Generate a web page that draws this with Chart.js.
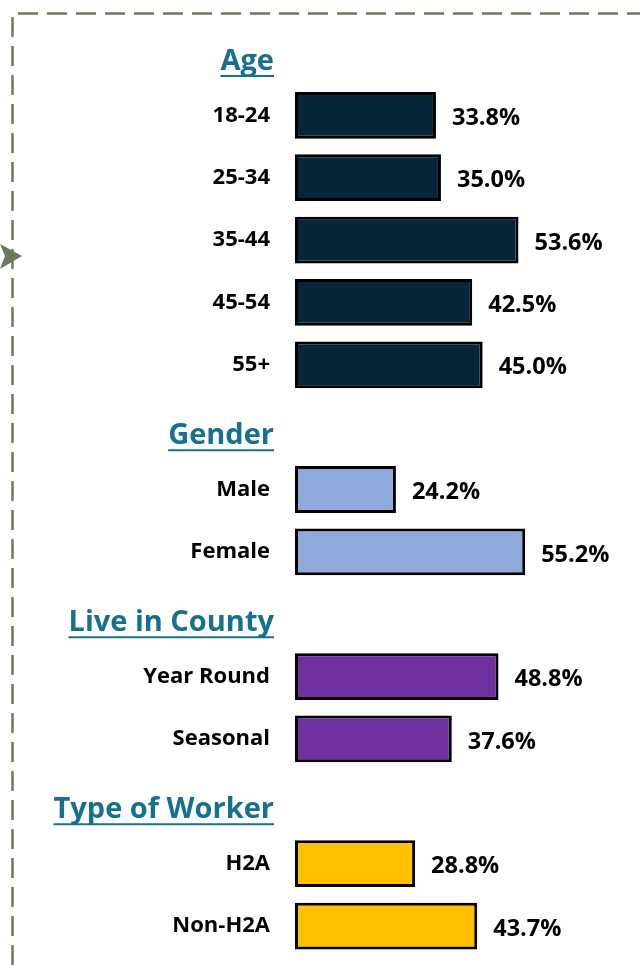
<!DOCTYPE html>
<html>
<head>
<meta charset="utf-8">
<script src="https://cdn.jsdelivr.net/npm/chart.js@4"></script>
<style>
html, body { margin: 0; padding: 0; background: #fff; }
#wrap { position: relative; width: 640px; height: 965px; }
</style>
</head>
<body>
<div id="wrap"><canvas id="demoChart" width="640" height="965"></canvas></div>
<script>
// group headings and their bars
var groupNames = ['Age', 'Gender', 'Live in County', 'Type of Worker'];
var ageLabels = ['18-24', '25-34', '35-44', '45-54', '55+'];
var ageValues = [33.8, 35.0, 53.6, 42.5, 45.0];
var genderLabels = ['Male', 'Female'];
var genderValues = [24.2, 55.2];
var countyLabels = ['Year Round', 'Seasonal'];
var countyValues = [48.8, 37.6];
var workerLabels = ['H2A', 'Non-H2A'];
var workerValues = [28.8, 43.7];
var groupColors = ['#08263a', '#8eaadb', '#7030a0', '#ffc000'];

var FONT = '"Open Sans", "Noto Sans", sans-serif';
var HEAD_COLOR = '#16708f';
var FRAME_COLOR = '#6c7a5b';

// one category slot per heading, then one per bar
var labels = [], values = [], colors = [], headers = [];
[[ageLabels, ageValues], [genderLabels, genderValues], [countyLabels, countyValues], [workerLabels, workerValues]]
  .forEach(function (g, gi) {
    headers.push({ index: labels.length, text: groupNames[gi] });
    labels.push('');
    values.push(null);
    colors.push('rgba(0,0,0,0)');
    for (var i = 0; i < g[0].length; i++) {
      labels.push(g[0][i]);
      values.push(g[1][i]);
      colors.push(groupColors[gi]);
    }
  });

// dashed frame + arrow on the left
var framePlugin = {
  id: 'frame',
  beforeDraw: function (chart) {
    var c = chart.ctx;
    c.save();
    c.strokeStyle = FRAME_COLOR;
    c.lineWidth = 2.5;
    c.setLineDash([20, 9]);
    c.beginPath();
    c.moveTo(12.5, 965);
    c.lineTo(12.5, 13.5);
    c.lineTo(640, 13.5);
    c.stroke();
    c.setLineDash([]);
    c.fillStyle = FRAME_COLOR;
    c.beginPath();
    c.moveTo(22, 256);
    c.lineTo(0, 244);
    c.lineTo(5, 256);
    c.lineTo(0, 269);
    c.closePath();
    c.fill();
    c.restore();
  }
};

// headings with underline, and value labels at bar ends
var textPlugin = {
  id: 'texts',
  afterDatasetsDraw: function (chart) {
    var c = chart.ctx;
    var yScale = chart.scales.y;
    c.save();
    c.font = 'bold 29px ' + FONT;
    c.fillStyle = HEAD_COLOR;
    c.strokeStyle = HEAD_COLOR;
    c.textAlign = 'right';
    c.textBaseline = 'alphabetic';
    headers.forEach(function (h) {
      var y = yScale.getPixelForValue(h.index) + 17;
      var w = c.measureText(h.text).width;
      c.fillText(h.text, 274, y);
      c.lineWidth = 2;
      c.beginPath();
      c.moveTo(274 - w, y + 6);
      c.lineTo(274, y + 6);
      c.stroke();
    });
    c.font = 'bold 23.5px ' + FONT;
    c.fillStyle = '#000';
    c.textAlign = 'left';
    c.textBaseline = 'middle';
    chart.getDatasetMeta(0).data.forEach(function (bar, i) {
      if (values[i] === null) return;
      c.fillText(values[i].toFixed(1) + '%', bar.x + 16, bar.y + 3);
    });
    c.restore();
  }
};

var ctx = document.getElementById('demoChart').getContext('2d');
var demoChart = new Chart(ctx, {
  type: 'bar',
  data: {
    labels: labels,
    datasets: [{
      data: values,
      backgroundColor: colors,
      borderColor: '#000',
      borderWidth: 3,
      borderSkipped: false,
      barPercentage: 0.75,
      categoryPercentage: 1
    }]
  },
  options: {
    indexAxis: 'y',
    responsive: false,
    animation: false,
    layout: { padding: { top: 21.8, bottom: 7.8, right: 11.4, left: 0 } },
    plugins: { legend: { display: false }, tooltip: { enabled: false } },
    scales: {
      x: { display: false, min: 0, max: 80 },
      y: {
        grid: { display: false, drawTicks: false },
        border: { display: false },
        ticks: {
          padding: 25,
          color: '#000',
          font: { family: FONT, size: 22, weight: 'bold' }
        },
        afterFit: function (scale) {
          scale.width = 295;
          // keep label padding from pushing the plot area in
          scale.paddingTop = 0;
          scale.paddingBottom = 0;
        }
      }
    }
  },
  plugins: [framePlugin, textPlugin]
});
</script>
</body>
</html>
